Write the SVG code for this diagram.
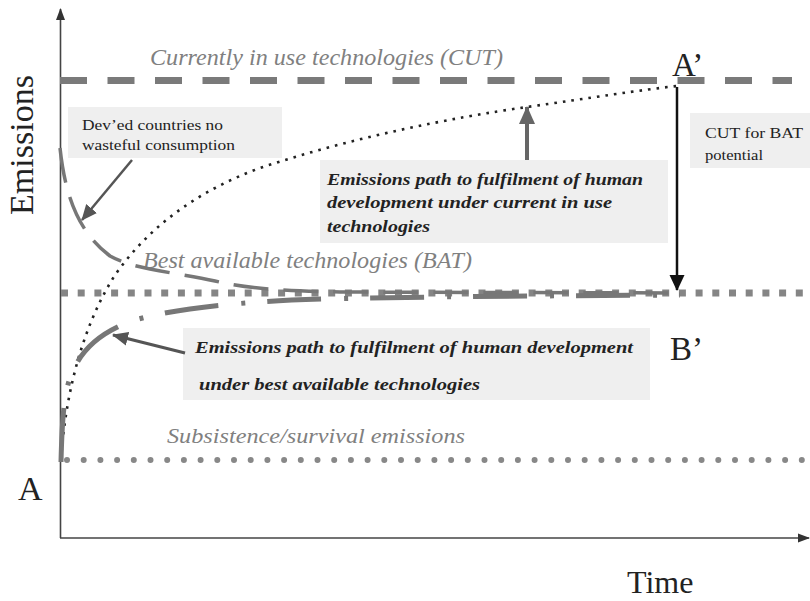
<svg xmlns="http://www.w3.org/2000/svg" width="810" height="601" viewBox="0 0 810 601">
<defs>
<style>
.lbl{font-style:italic;fill:#808080;}
.bi{font-style:italic;font-weight:bold;fill:#222;font-size:17px;}
.reg{fill:#222;font-size:15px;}
.big{fill:#222;}
.box{fill:#efefef;stroke:none;}
.axis{stroke:#444;stroke-width:1.6;fill:none;}
</style>
<marker id="axhead" markerUnits="userSpaceOnUse" markerWidth="12" markerHeight="12" viewBox="0 0 12 12" refX="11" refY="6" orient="auto">
<path d="M0,1.5 L12,6 L0,10.5 z" fill="#333"/>
</marker>
<marker id="gh" markerUnits="userSpaceOnUse" markerWidth="16" markerHeight="16" viewBox="0 0 16 16" refX="15" refY="8" orient="auto">
<path d="M0,1 L16,8 L0,15 z" fill="#555"/>
</marker>
<marker id="gh2" markerUnits="userSpaceOnUse" markerWidth="18" markerHeight="18" viewBox="0 0 18 18" refX="17" refY="9" orient="auto">
<path d="M0,1 L18,9 L0,17 z" fill="#666"/>
</marker>
<marker id="bh" markerUnits="userSpaceOnUse" markerWidth="16" markerHeight="16" viewBox="0 0 16 16" refX="15" refY="8" orient="auto">
<path d="M0,0.5 L16,8 L0,15.5 z" fill="#111"/>
</marker>
</defs>
<rect width="810" height="601" fill="#fff"/>

<g id="axes">
<line class="axis" x1="60.5" y1="538" x2="60.5" y2="9" marker-end="url(#axhead)"/>
<line class="axis" x1="60" y1="538" x2="809" y2="538" marker-end="url(#axhead)"/>
<text class="big" font-family="Liberation Serif, serif" transform="translate(33,145) rotate(-90)" text-anchor="middle" font-size="34">Emissions</text>
<text class="big" font-family="Liberation Serif, serif" x="627" y="593" font-size="32">Time</text>
</g>

<g id="levels">
<line x1="60" y1="80.5" x2="792" y2="80.5" stroke="#7a7a7a" stroke-width="7" stroke-dasharray="27 20.5"/>
<line x1="61" y1="293" x2="810" y2="293" stroke="#858585" stroke-width="7" stroke-dasharray="7 9.7"/>
<line x1="67" y1="460" x2="810" y2="460" stroke="#888" stroke-width="6" stroke-linecap="round" stroke-dasharray="0 16.7"/>
<text class="lbl" font-family="Liberation Serif, serif" x="150" y="65" font-size="23" textLength="353" lengthAdjust="spacingAndGlyphs">Currently in use technologies (CUT)</text>
<text class="lbl" font-family="Liberation Serif, serif" x="143" y="268" font-size="23" textLength="329" lengthAdjust="spacingAndGlyphs" fill="#777">Best available technologies (BAT)</text>
<text class="lbl" font-family="Liberation Serif, serif" x="167" y="443" font-size="22" textLength="298" lengthAdjust="spacingAndGlyphs">Subsistence/survival emissions</text>
</g>

<g id="paths">
<path d="M61,460 C65,400 80,330 115,275 C150,225 200,190 260,168 C350,138 450,118 527,107 C590,98 640,90 677,86" fill="none" stroke="#222" stroke-width="2.6" stroke-dasharray="2.6 6"/>
<path d="M60,148 C65,195 78,232 110,256 C135,270 175,272 215,281 C245,288 280,291 340,292 L680,293" fill="none" stroke="#777" stroke-width="3.5" stroke-dasharray="35 15"/>
<path d="M61,462 C62,420 64,395 70,378 C80,350 100,332 135,320 C170,310 215,305 260,302 C300,299 350,297 680,295" fill="none" stroke="#777" stroke-width="5" stroke-dasharray="54 23 4 22"/>
</g>

<g id="node-deved">
<rect class="box" x="68" y="107" width="214" height="51"/>
<text class="reg" font-family="Liberation Serif, serif" x="82" y="130" textLength="141" lengthAdjust="spacingAndGlyphs">Dev’ed countries no</text>
<text class="reg" font-family="Liberation Serif, serif" x="82" y="150" textLength="153" lengthAdjust="spacingAndGlyphs">wasteful consumption</text>
</g>

<g id="node-cutpath">
<rect class="box" x="320" y="160" width="348" height="83"/>
<text class="bi" font-family="Liberation Serif, serif" x="327" y="185" textLength="316" lengthAdjust="spacingAndGlyphs">Emissions path to fulfilment of human</text>
<text class="bi" font-family="Liberation Serif, serif" x="327" y="208" textLength="285" lengthAdjust="spacingAndGlyphs">development under current in use</text>
<text class="bi" font-family="Liberation Serif, serif" x="327" y="232" textLength="103" lengthAdjust="spacingAndGlyphs">technologies</text>
</g>

<g id="node-cutbat">
<rect class="box" x="690" y="113" width="120" height="55"/>
<text class="reg" font-family="Liberation Serif, serif" x="705" y="138" font-size="16" textLength="98" lengthAdjust="spacingAndGlyphs">CUT for BAT</text>
<text class="reg" font-family="Liberation Serif, serif" x="705" y="160" font-size="16" textLength="58" lengthAdjust="spacingAndGlyphs">potential</text>
</g>

<g id="node-batpath">
<rect class="box" x="183" y="328" width="467" height="72"/>
<text class="bi" font-family="Liberation Serif, serif" x="195" y="353" textLength="438" lengthAdjust="spacingAndGlyphs">Emissions path to fulfilment of human development</text>
<text class="bi" font-family="Liberation Serif, serif" x="199" y="390" textLength="281" lengthAdjust="spacingAndGlyphs">under best available technologies</text>
</g>

<g id="node-A">
<text class="big" font-family="Liberation Serif, serif" x="18" y="500" font-size="34">A</text>
</g>
<g id="node-A2">
<text class="big" font-family="Liberation Serif, serif" x="672" y="76" font-size="33">A’</text>
</g>
<g id="node-B2">
<text class="big" font-family="Liberation Serif, serif" x="670" y="360" font-size="33">B’</text>
</g>

<g id="connectors">
<line x1="132" y1="160" x2="82" y2="220" stroke="#555" stroke-width="2.5" marker-end="url(#gh)"/>
<line x1="527" y1="160" x2="527" y2="107" stroke="#666" stroke-width="4" marker-end="url(#gh2)"/>
<line x1="185" y1="353" x2="113" y2="335" stroke="#555" stroke-width="3" marker-end="url(#gh)"/>
<line x1="677" y1="87" x2="677" y2="290" stroke="#111" stroke-width="2.5" marker-end="url(#bh)"/>
</g>
</svg>
